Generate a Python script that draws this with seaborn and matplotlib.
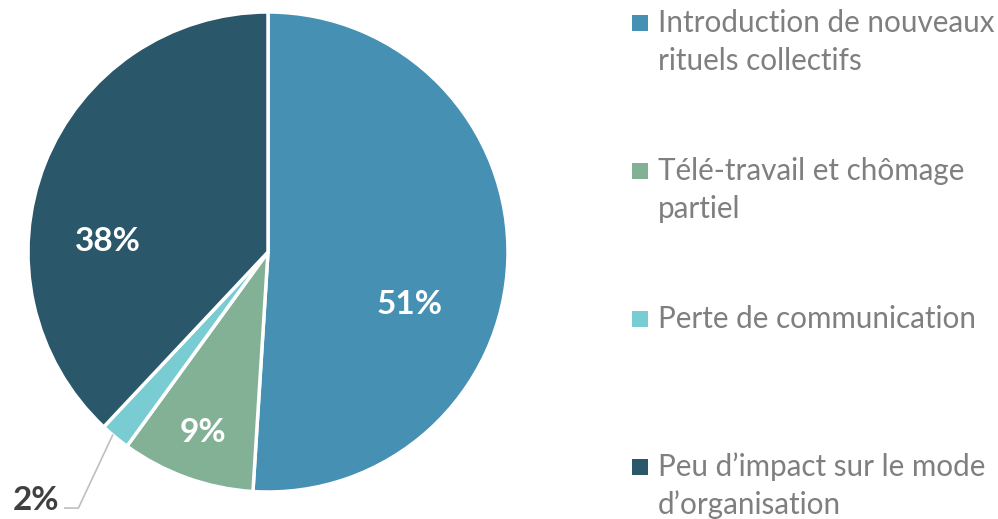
import matplotlib
matplotlib.use("Agg")
import matplotlib.pyplot as plt
import seaborn as sns

# data
categories = ["Introduction de nouveaux\nrituels collectifs",
              "Télé-travail et chômage\npartiel",
              "Perte de communication",
              "Peu d\u2019impact sur le mode\nd\u2019organisation"]
values = [51, 9, 2, 38]
colors = ["#4691B3", "#82B196", "#78CCD2", "#2A5769"]

sns.set_theme(style="white")
plt.rcParams['font.family'] = ['Lato', 'DejaVu Sans']

fig = plt.figure(figsize=(9.98, 5.19), dpi=100)
ax = fig.add_axes([0, 0, 1, 1])

cx, cy, r = 268, 519 - 252, 240
wedges, _ = ax.pie(values, colors=colors, startangle=90, counterclock=False,
                   radius=r, center=(cx, cy),
                   wedgeprops=dict(edgecolor='white', linewidth=2.5))
ax.set_xlim(0, 998)
ax.set_ylim(0, 519)
ax.set_aspect('equal')
ax.axis('off')

# label offsets (fraction of radius)
label_pos = [(0.59, -0.22), (-0.27, -0.754), None, (-0.667, 0.042)]
for v, pos in zip(values, label_pos):
    if pos is None:
        continue
    ax.text(cx + pos[0] * r, cy + pos[1] * r, f"{v}%", color='white',
            fontsize=24, fontweight='bold', ha='center', va='center')

# small slice with leader line
ax.plot([cx - 0.646 * r, cx - 0.79 * r, cx - 0.85 * r],
        [cy - 0.76 * r, cy - 1.067 * r, cy - 1.067 * r],
        color='#BFBFBF', lw=1.2, solid_capstyle='butt')
ax.text(cx - 0.965 * r, cy - 1.035 * r, f"{values[2]}%", color='#404040',
        fontsize=24, fontweight='bold', ha='center', va='center')

# legend, drawn by hand so the marker sits on the first line
leg_top = [23, 171, 319, 467]
for lab, col, yt in zip(categories, colors, leg_top):
    y = 519 - yt
    ax.scatter([640], [y], marker='s', s=130, color=col, linewidths=0)
    for k, line in enumerate(lab.split('\n')):
        ax.text(658, y - 38 * k, line, color='#7F7F7F', fontsize=21.3,
                ha='left', va='center')

fig.savefig("out.png", dpi=100)
